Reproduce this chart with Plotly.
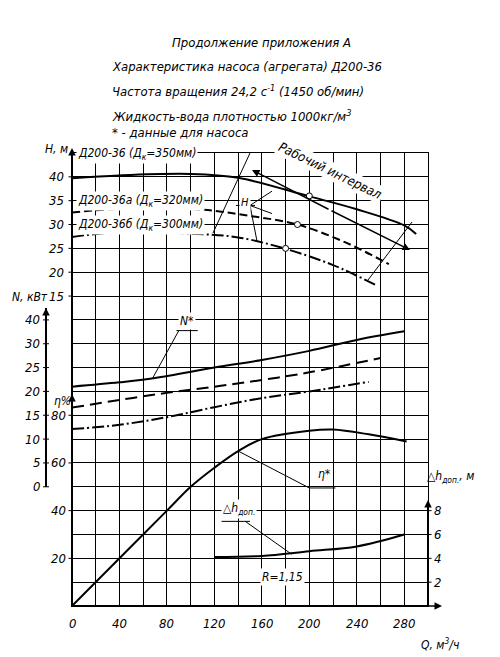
import plotly.graph_objects as go

# ---- data ----
Q_H1 = [0, 40, 100, 140, 200, 240, 280, 290]
H1 = [39.7, 40.3, 40.6, 39.8, 35.9, 33.2, 29.8, 28.0]
Q_H2 = [0, 40, 110, 150, 190, 230, 267]
H2 = [32.5, 33.3, 33.1, 31.8, 30.0, 26.3, 21.7]
Q_H3 = [0, 40, 100, 140, 180, 220, 257]
H3 = [27.4, 28.4, 28.1, 27.3, 24.9, 21.5, 17.2]
Q_pts = [200, 190, 180]
H_pts = [36.0, 30.0, 25.0]

Q_N1 = [0, 40, 70, 120, 160, 200, 240, 280]
N1 = [21.0, 21.9, 22.8, 25.0, 26.6, 28.5, 30.8, 32.6]
Q_N2 = [0, 40, 80, 120, 160, 200, 260]
N2 = [16.6, 18.2, 19.7, 21.0, 22.4, 24.0, 27.0]
Q_N3 = [0, 40, 80, 120, 160, 200, 250]
N3 = [12.1, 13.0, 14.6, 16.7, 18.6, 20.0, 22.0]

Q_eta = [0, 40, 80, 100, 120, 140, 160, 200, 220, 250, 282]
ETA = [0, 20, 40, 50, 58, 65, 70, 73.5, 74, 72, 69]

Q_dh = [120, 160, 200, 240, 280]
DH = [4.1, 4.2, 4.6, 5.0, 6.0]

H_ticks = [40, 35, 30, 25, 20, 15]
N_ticks = [30, 25, 20, 15, 10, 5, 0]
ETA_ticks = [80, 60, 40, 20]
DH_ticks = [8, 6, 4, 2]
Q_ticks = [0, 40, 80, 120, 160, 200, 240, 280]

# ---- scale mapping to grid cells ----
def hc(v): return 18 + (v - 40) / 5
def nc(v): return 5 + v / 5
def ec(v): return v / 10
def dc(v): return v / 2

# Q / cell -> paper fractions; pixel -> Q / cell
def PX(q): return q / 300
def PY(c): return c / 19
def xp(px): return (px - 72) / 356 * 300
def yp(py): return (606 - py) / 453 * 19

F = "DejaVu Sans Condensed, DejaVu Sans"
fig = go.Figure()
def line(x, y, dash="solid", w=2):
    fig.add_trace(go.Scatter(x=x, y=y, mode="lines", line=dict(color="black", width=w, dash=dash, shape="spline"),
                             showlegend=False, hoverinfo="skip"))

line(Q_H1, [hc(v) for v in H1])
line(Q_H2, [hc(v) for v in H2], "8px,4px")
line(Q_H3, [hc(v) for v in H3], "12px,3px,2px,3px")
fig.add_trace(go.Scatter(x=Q_pts, y=[hc(v) for v in H_pts], mode="markers",
                         marker=dict(color="white", size=6, line=dict(color="black", width=1)), showlegend=False))
line(Q_N1, [nc(v) for v in N1])
line(Q_N2, [nc(v) for v in N2], "12px,6px")
line(Q_N3, [nc(v) for v in N3], "12px,3px,2px,3px")
line(Q_eta, [ec(v) for v in ETA])
line(Q_dh, [dc(v) for v in DH])

ann = []
def txt(q, c, t, size=12, xa="center", angle=0, bg=None):
    d = dict(x=PX(q), y=PY(c), xref="paper", yref="paper", text="<i>" + t + "</i>", showarrow=False, xanchor=xa,
             yanchor="middle", font=dict(family=F, size=size, color="black"), textangle=angle)
    if bg:
        d["bgcolor"] = bg
    ann.append(d)

for v in H_ticks: txt(xp(66), hc(v), str(v), 13, xa="right")
for v in N_ticks: txt(xp(42), nc(v), str(v), 13, xa="right")
txt(xp(42), 12, "40", 13, xa="right")
for v in ETA_ticks: txt(xp(68), ec(v), str(v), 13, xa="right")
for v in DH_ticks: txt(xp(432), dc(v), str(v), 13, xa="left")
for v in Q_ticks: txt(v, -0.75, str(v), 13)
txt(xp(440), -1.6, "Q, м<sup>3</sup>/ч", 12)
txt(xp(56), 19.15, "H, м", 12)
txt(xp(30), 12.95, "N, кВт", 12)
txt(xp(62), 8.6, "η%", 12)
txt(xp(450), 5.4, "△h<sub>доп.</sub>, м", 12)
txt(xp(76), 18.95, "Д200-36 (Д<sub>к</sub>=350мм)", 12, xa="left", bg="white")
txt(xp(76), 17.0, "Д200-36а (Д<sub>к</sub>=320мм)", 12, xa="left", bg="white")
txt(xp(76), 16.0, "Д200-36б (Д<sub>к</sub>=300мм)", 12, xa="left", bg="white")
txt(xp(245), hc(34.6), "H", 11, bg="white")
txt(97, 11.95, "N*", 12, bg="white")
txt(213, 5.55, "η*", 12, bg="white")
txt(141, 4.05, "△h<sub>доп.</sub>", 12, bg="white")
txt(177, 1.2, "R=1,15", 12, bg="white")
txt(xp(330), yp(170), "Рабочий интервал", 13, angle=26, bg="white")

for y, t, x in [(42, "Продолжение приложения А", 170), (67, "Характеристика насоса (агрегата) Д200-36", 110),
                (91, "Частота вращения 24,2 с<sup>-1</sup> (1450 об/мин)", 110),
                (116, "Жидкость-вода плотностью 1000кг/м<sup>3</sup>", 110), (132, "* - данные для насоса", 110)]:
    ann.append(dict(x=(x - 72) / 356, y=(606 - y) / 453, xref="paper", yref="paper", text="<i>" + t + "</i>",
                    showarrow=False, xanchor="left", yanchor="middle", font=dict(family=F, size=13, color="black")))

def arrow(px0, py0, px1, py1):
    ann.append(dict(x=(px1 - 72) / 356, y=(606 - py1) / 453, ax=px0 - px1, ay=py0 - py1, xref="paper",
                    yref="paper", axref="pixel", ayref="pixel", text="", showarrow=True,
                    arrowhead=2, arrowsize=1, arrowwidth=1.5, arrowcolor="black"))
arrow(46, 330, 46, 308)
arrow(72, 410, 72, 394)
arrow(72, 165, 72, 148)
arrow(428, 520, 428, 500)
arrow(420, 606, 442, 606)
arrow(330, 210, 252, 170)
arrow(330, 210, 410, 250)

shapes = []
def seg(q0, c0, q1, c1, w=1):
    shapes.append(dict(type="line", x0=PX(q0), y0=PY(c0), x1=PX(q1), y1=PY(c1), xref="paper", yref="paper",
                       line=dict(color="black", width=w)))
seg(xp(46), 5, xp(46), 12.5, 2)
for v in N_ticks + [35]: seg(xp(43), nc(v), xp(49), nc(v))
for v in H_ticks: seg(-3, hc(v), 0, hc(v))
for v in ETA_ticks: seg(-3, ec(v), 0, ec(v))
seg(300, 0, 300, 4.2, 2)
for v in DH_ticks: seg(300, dc(v), 303, dc(v))
seg(0, 0, 300, 0, 2)
seg(0, 0, 0, 19, 2)
seg(xp(213), yp(233), xp(250), 19.0)
seg(xp(368), yp(280), xp(412), yp(222))
seg(xp(236), hc(34.0), xp(255), hc(34.0))
seg(xp(250), hc(34.0), xp(272), hc(37.0))
seg(xp(250), hc(34.0), xp(272), hc(32.3))
seg(xp(250), hc(34.0), xp(257), hc(26.5))
seg(88, 11.55, 106, 11.55); seg(90, 11.55, 68, nc(22.8))
seg(140, ec(65), 200, 4.95); seg(200, 4.95, 222, 4.95)
seg(126, 3.55, 150, 3.55); seg(146, 3.55, 185, dc(4.35))
seg(160, 0.95, 195, 0.95)

fig.update_layout(width=492, height=649, margin=dict(l=64, r=72, t=145, b=51, autoexpand=False),
                  plot_bgcolor="white", paper_bgcolor="white", annotations=ann, shapes=shapes)
fig.update_xaxes(range=[0, 300], dtick=20, showgrid=True, gridcolor="black", gridwidth=1, showticklabels=False,
                 zeroline=False, showline=True, linecolor="black", mirror=True)
fig.update_yaxes(range=[0, 19], dtick=1, showgrid=True, gridcolor="black", gridwidth=1, showticklabels=False,
                 zeroline=False, showline=True, linecolor="black", mirror=True)
fig.write_html("out.html")
